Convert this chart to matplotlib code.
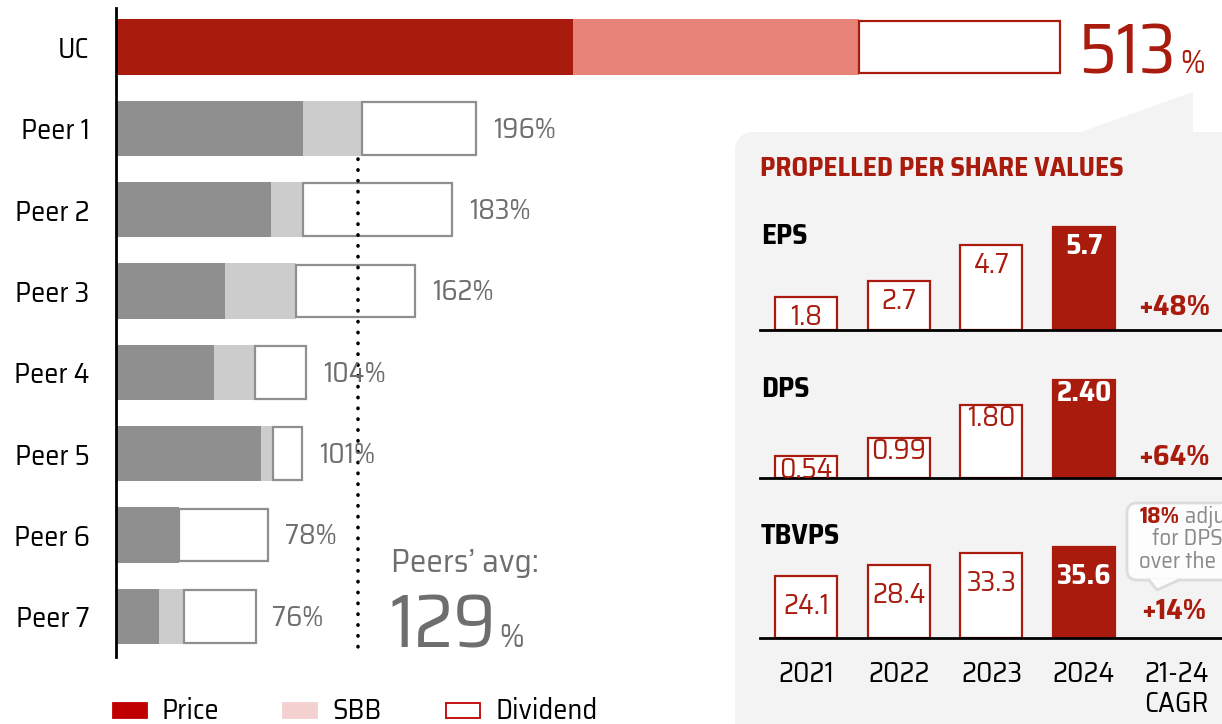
import matplotlib
matplotlib.use("Agg")
import matplotlib.pyplot as plt
from matplotlib.patches import FancyBboxPatch, Polygon, Rectangle
from matplotlib.transforms import offset_copy, blended_transform_factory
import numpy as np

plt.rcParams['font.family'] = ['Saira SemiCondensed', 'DejaVu Sans']

# ---------------- data ----------------
companies = ["UC", "Peer 1", "Peer 2", "Peer 3", "Peer 4", "Peer 5", "Peer 6", "Peer 7"]
price = [248.4, 101.6, 84.2, 59.2, 53.3, 78.8, 34.2, 23.4]
sbb = [155.4, 32.1, 17.4, 38.6, 22.3, 6.5, 0.0, 13.4]
dividend = [109.2, 62.0, 81.0, 64.7, 27.7, 15.8, 48.4, 39.1]
total_labels = [513, 196, 183, 162, 104, 101, 78, 76]
peers_avg = 129
avg_line_x = 131.5

years = ["2021", "2022", "2023", "2024"]
cagr_label = ["21-24", "CAGR"]
metrics = ["EPS", "DPS", "TBVPS"]
eps = [1.8, 2.7, 4.7, 5.7]
dps = [0.54, 0.99, 1.80, 2.40]
tbvps = [24.1, 28.4, 33.3, 35.6]
cagr = ["+48%", "+64%", "+14%"]
legend_labels = ["Price", "SBB", "Dividend"]
title = "PROPELLED PER SHARE VALUES"
note_bold = "18%"
note_rest = [" adjusted", "for DPS", "over the period"]

# ---------------- style ----------------
W, H = 1222, 724
RED = '#a91b0d'
RED_LIGHT = '#e8837a'
GRAY = '#8f8f8f'
GRAY_LIGHT = '#cccccc'
TXT_GRAY = '#6e6e6e'
PANEL = '#f3f3f3'
FS = 20.5

fig = plt.figure(figsize=(W / 100, H / 100), dpi=100)
PT = 72 / 100  # points per pixel

def fx(x):
    return x / W

def fy(y):
    return 1 - y / H

# background pixel axes
bg = fig.add_axes([0, 0, 1, 1], zorder=-1)
bg.set_xlim(0, W)
bg.set_ylim(H, 0)
bg.axis('off')
bg.add_patch(FancyBboxPatch((735, 132), 560, 640, boxstyle="round,pad=0,rounding_size=20",
                            facecolor=PANEL, edgecolor='none'))
bg.add_patch(Polygon([(1078, 133), (1193, 92), (1193, 133)], closed=True, facecolor=PANEL, edgecolor='none'))
# callout bubble
bg.add_patch(FancyBboxPatch((1127, 503), 140, 77, boxstyle="round,pad=0,rounding_size=10",
                            facecolor='#fdfdfd', edgecolor='#dcdcdc', lw=2, zorder=2))
bg.add_patch(Polygon([(1149, 578.5), (1157, 590), (1179, 578.5)], closed=True, facecolor='#fdfdfd',
                     edgecolor='none', zorder=3))
bg.plot([1149, 1157, 1179], [580, 590, 580], color='#dcdcdc', lw=2, zorder=3, solid_joinstyle='miter')

# ---------------- main bar chart ----------------
scale = 1.84  # px per %
ax = fig.add_axes([fx(116), fy(657), (W - 116) / W, (657 - 8) / H])
ax.patch.set_visible(False)
ax.set_xlim(0, (W - 116) / scale)
ax.set_ylim(7.5, -0.48)
ypos = np.arange(len(companies))
bh = 0.68
p_cols = [RED] + [GRAY] * 7
s_cols = [RED_LIGHT] + [GRAY_LIGHT] * 7
d_edges = [RED] + [GRAY] * 7
left2 = np.array(price) + np.array(sbb)
ax.barh(ypos, price, height=bh, color=p_cols, edgecolor='none')
ax.barh(ypos, sbb, left=price, height=bh, color=s_cols, edgecolor='none')
ax.barh(ypos, dividend, left=left2, height=bh - 0.03, color='white', edgecolor=d_edges, linewidth=1.6)
totals = left2 + np.array(dividend)

for i in range(1, len(companies)):
    ax.annotate(f"{total_labels[i]}%", (totals[i], ypos[i]), xytext=(12, -1), textcoords='offset points',
                va='center', ha='left', fontsize=FS, color=TXT_GRAY)

# UC big label
uc_off = (13, -19)
t513 = ax.annotate(f"{total_labels[0]}", (totals[0], ypos[0]), xytext=uc_off, textcoords='offset points',
                   va='baseline', ha='left', fontsize=51, color=RED)

ax.plot([avg_line_x, avg_line_x], [1.38, 7.48], color='black', lw=2.6,
        linestyle=(0, (0.1, 2.9)), dash_capstyle='round')

ax.set_yticks(ypos, companies)
ax.tick_params(axis='y', length=0, pad=19, labelsize=FS)
ax.set_xticks([])
for s in ['top', 'right', 'bottom']:
    ax.spines[s].set_visible(False)
ax.spines['left'].set_linewidth(2)

t_avg = fig.text(fx(391), fy(563), "Peers’ avg:", fontsize=24, color=TXT_GRAY, va='center', ha='left')
t129 = fig.text(fx(389), fy(647), f"{peers_avg}", fontsize=54, color=TXT_GRAY, va='baseline', ha='left')

# ---------------- per-share panels ----------------
fig.text(fx(760), fy(169), title, fontsize=19.5, fontweight='bold', color=RED, va='center', ha='left')

panel_vals = [eps, dps, tbvps]
panel_fmt = ["{:.1f}", "{:.2f}", "{:.1f}"]
panel_base = [330, 478, 638]
panel_scale = [18.07, 40.8, 2.556]  # px per unit
panel_label_y = [237, 389, 537]
label_off = [14, 10, 21.5]   # points below bar top
cagr_off = [16, 15, 19]      # points above baseline
AH = 110
axes = []
for k in range(3):
    a = fig.add_axes([fx(760), fy(panel_base[k]), (W - 760) / W, AH / H])
    a.patch.set_visible(False)
    a.set_xlim(-0.5, 4.49)
    a.set_ylim(0, AH / panel_scale[k])
    vals = panel_vals[k]
    xs = np.arange(len(vals))
    fc = ['white'] * (len(vals) - 1) + [RED]
    a.bar(xs, vals, width=0.67, color=fc, edgecolor=RED, linewidth=1.6, zorder=2)
    tr = offset_copy(a.transData, fig=fig, y=-label_off[k], units='points')
    for i, v in enumerate(vals):
        last = i == len(vals) - 1
        a.text(i, v, panel_fmt[k].format(v), transform=tr, ha='center', va='center', fontsize=FS,
               color='white' if last else RED, fontweight='bold' if last else 'normal',
               clip_on=True, zorder=3)
    btr = offset_copy(blended_transform_factory(a.transData, a.transAxes), fig=fig, y=cagr_off[k], units='points')
    a.text(3.97, 0, cagr[k], transform=btr, ha='center', va='center', fontsize=21, fontweight='bold', color=RED)
    for s in ['top', 'right', 'left']:
        a.spines[s].set_visible(False)
    a.spines['bottom'].set_linewidth(2)
    a.set_yticks([])
    fig.text(fx(761), fy(panel_label_y[k]), metrics[k], fontsize=FS, fontweight='bold', color='black',
             va='center', ha='left')
    axes.append(a)

a = axes[-1]
a.set_xticks(range(5), years + ["\n".join(cagr_label)])
a.tick_params(axis='x', length=0, pad=16, labelsize=FS)
for lbl in a.get_xticklabels():
    lbl.set_linespacing(1.1)
for a2 in axes[:-1]:
    a2.set_xticks([])

# callout text
NOTE_FS = 16.5
tb = fig.text(fx(1140), fy(517), note_bold, fontsize=NOTE_FS, fontweight='bold', color=RED, va='center', ha='left')
fig.text(fx(1152), fy(539), note_rest[1], fontsize=NOTE_FS, color='#8a8a8a', va='center', ha='left')
fig.text(fx(1139), fy(562), note_rest[2], fontsize=NOTE_FS, color='#8a8a8a', va='center', ha='left')

# ---------------- legend ----------------
leg_face = ['#c00000', '#f5d0d0', 'white']
leg_edge = ['#c00000', '#f5d0d0', '#c00000']
leg_sq_x = [113, 283, 446]
for i, lab in enumerate(legend_labels):
    bg.add_patch(Rectangle((leg_sq_x[i], 703), 34, 15, facecolor=leg_face[i], edgecolor=leg_edge[i], lw=1.3))
    fig.text(fx(leg_sq_x[i] + 49), fy(711), lab, fontsize=FS, color='black', va='center', ha='left')

# percent signs after big numbers (same baseline)
fig.canvas.draw()
r = fig.canvas.get_renderer()
bb = t513.get_window_extent(r)
anchor = ax.transData.transform((totals[0], ypos[0]))
dx_pt = (bb.x1 + 4 - anchor[0]) * PT
ax.annotate("%", (totals[0], ypos[0]), xytext=(dx_pt, uc_off[1]), textcoords='offset points',
            fontsize=24, color=RED, va='baseline', ha='left')
bb = t129.get_window_extent(r)
fig.text((bb.x1 + 3) / W, fy(647), "%", fontsize=24, color=TXT_GRAY, va='baseline', ha='left')
bb = tb.get_window_extent(r)
fig.text(bb.x1 / W, fy(517), note_rest[0], fontsize=NOTE_FS, color='#8a8a8a', va='center', ha='left')

fig.savefig("out.png", dpi=100)
